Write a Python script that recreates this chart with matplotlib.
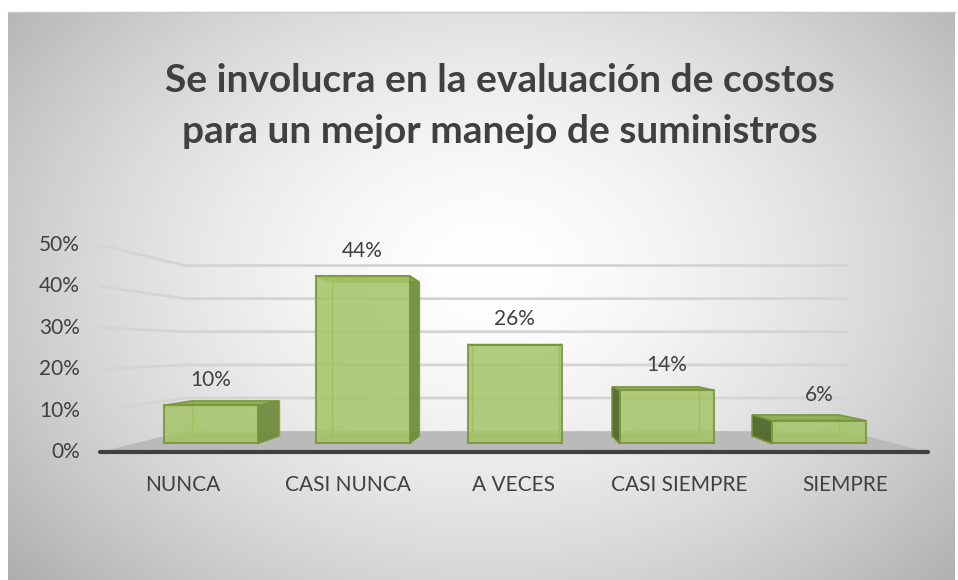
import matplotlib
matplotlib.use("Agg")
import matplotlib.pyplot as plt
import numpy as np
from matplotlib.patches import Polygon

plt.rcParams['font.family'] = ['Lato', 'DejaVu Sans']

# data
categories = ['NUNCA', 'CASI NUNCA', 'A VECES', 'CASI SIEMPRE', 'SIEMPRE']
values = [10, 44, 26, 14, 6]
labels = ['10%', '44%', '26%', '14%', '6%']
yticks = [0, 10, 20, 30, 40, 50]
title = 'Se involucra en la evaluación de costos\npara un mejor manejo de suministros'

W, H = 958, 580
fig = plt.figure(figsize=(W / 100, H / 100), dpi=100)
fig.patch.set_facecolor('white')

# background with radial gradient
bg = fig.add_axes([0, 0, 1, 1])
bg.set_xlim(0, W)
bg.set_ylim(H, 0)
bg.axis('off')
gx, gy = np.meshgrid(np.linspace(8, 955, 300), np.linspace(12, 580, 200))
r = np.sqrt(((gx - 490) / 560) ** 2 + ((gy - 270) / 420) ** 2)
shade = 1 - 0.26 * np.clip(r, 0, 1.3) ** 1.6
img = np.dstack([shade, shade, shade])
bg.imshow(img, extent=[8, 955, 580, 12], aspect='auto', interpolation='bilinear')
bg.plot([8, 955], [12, 12], color='#c8c8c8', lw=1)

bg.text(500, 106, title, ha='center', va='center', fontsize=28, fontweight='bold',
        color='#404040', linespacing=1.56)

# main axes: front plane x -0.5..4.5 -> px 100..928 ; y 0..50 -> px 452..245
ax = fig.add_axes([100 / W, (H - 452) / H, 828 / W, 207 / H])
ax.set_xlim(-0.5, 4.5)
ax.set_ylim(0, 50)
ax.axis('off')

VPX, VPY = 2.054, 25.2
S_WALL, S_FRONT, S_BACK = 0.80, 0.918, 0.846
bw = 0.62


def proj(x, y, s):
    return (VPX + (x - VPX) * s, VPY + (y - VPY) * s)


# gridlines on left wall and back wall
for v in yticks[1:]:
    p0 = proj(-0.5, v, 1.0)
    p1 = proj(-0.5, v, S_WALL)
    p2 = proj(4.5, v, S_WALL)
    ax.plot([p0[0], p1[0], p2[0]], [p0[1], p1[1], p2[1]], color='#d4d4d4',
            lw=2, clip_on=False, zorder=1)

# floor
floor = [proj(-0.5, 0, 1.0), proj(4.5, 0, 1.0), proj(4.5, 0, S_WALL), proj(-0.5, 0, S_WALL)]
ax.add_patch(Polygon(floor, closed=True, facecolor='#bababa', edgecolor='none',
                     clip_on=False, zorder=2))
ax.plot([-0.5, 4.5], [0, 0], color='#404040', lw=3, solid_capstyle='round',
        clip_on=False, zorder=3)

edge = '#76953a'
for i, (v, lab) in enumerate(zip(values, labels)):
    x0, x1 = i - bw / 2, i + bw / 2
    fbl, fbr = proj(x0, 0, S_FRONT), proj(x1, 0, S_FRONT)
    ftl, ftr = proj(x0, v, S_FRONT), proj(x1, v, S_FRONT)
    bbl, bbr = proj(x0, 0, S_BACK), proj(x1, 0, S_BACK)
    btl, btr = proj(x0, v, S_BACK), proj(x1, v, S_BACK)
    # hidden back edges
    for a, b in [(bbl, bbr), (bbl, btl), (bbr, btr), (bbl, fbl), (bbr, fbr)]:
        ax.plot([a[0], b[0]], [a[1], b[1]], color='#8fb04e', lw=1, clip_on=False, zorder=4)
    # side face
    if i < VPX - 0.3:
        side = [fbr, ftr, btr, bbr]
        ax.add_patch(Polygon(side, closed=True, facecolor='#6e8a3a', edgecolor=edge,
                             lw=1.2, alpha=0.92, clip_on=False, zorder=5))
    elif i > VPX + 0.3:
        side = [fbl, ftl, btl, bbl]
        ax.add_patch(Polygon(side, closed=True, facecolor='#4f6528', edgecolor=edge,
                             lw=1.2, alpha=0.92, clip_on=False, zorder=5))
    # top face
    ax.add_patch(Polygon([ftl, ftr, btr, btl], closed=True, facecolor='#8daa50',
                         edgecolor=edge, lw=1.2, alpha=0.92, clip_on=False, zorder=6))
    # front face
    ax.bar(fbl[0], ftl[1] - fbl[1], width=fbr[0] - fbl[0], bottom=fbl[1], align='edge',
           color='#a4c466', alpha=0.85, edgecolor=edge, linewidth=1.5, clip_on=False, zorder=7)
    ax.text((ftl[0] + ftr[0]) / 2, ftl[1] + 6.1, lab, ha='center', va='center',
            fontsize=15, color='#404040', zorder=8)

for v in yticks:
    ax.text(-0.62, v, f'{v}%', ha='right', va='center', fontsize=15, color='#404040')

for i, c in enumerate(categories):
    ax.text(i, -7.97, c, ha='center', va='center', fontsize=15, color='#404040')

fig.savefig('out.png', dpi=100)
